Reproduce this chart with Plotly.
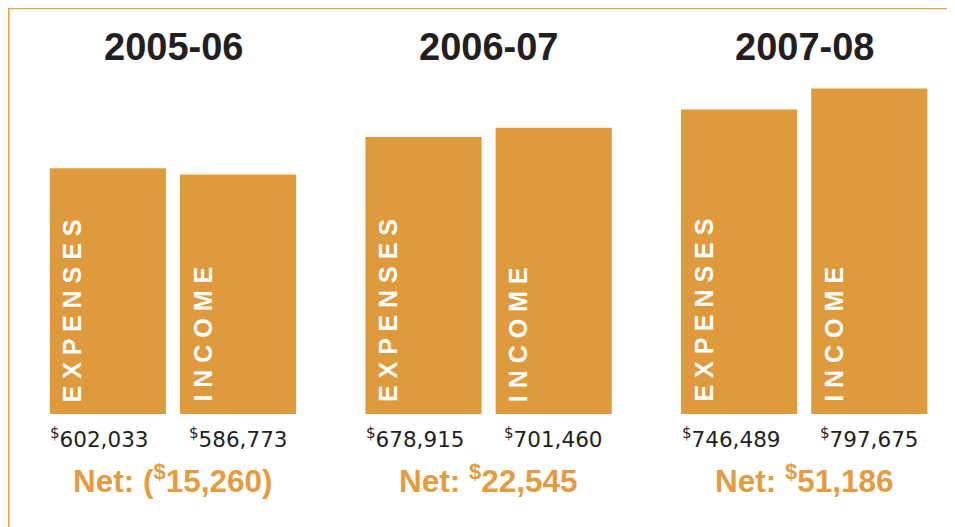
import plotly.graph_objects as go

years = ["2005-06", "2006-07", "2007-08"]
expenses = [602033, 678915, 746489]
income = [586773, 701460, 797675]
series_names = ["EXPENSES", "INCOME"]

ORANGE = "#E09A3E"
NET_ORANGE = "#E39C42"
DARK = "#231F20"
W, H = 947, 519

BARGAP = 0.175
BARGROUPGAP = 0.108
OFF = (1 - BARGAP) / 4

fig = go.Figure()
for name, vals in zip(series_names, [expenses, income]):
    fig.add_bar(x=years, y=vals, name=name,
                marker=dict(color=ORANGE, line=dict(width=0)),
                hoverinfo="skip")


def money(v):
    return "<sup>$</sup>" + f"{abs(v):,}"


annotations = []
for gi, yr in enumerate(years):
    # group title
    annotations.append(dict(x=gi, y=1 - 39 / H, xref="x", yref="paper",
                            text="<b>" + yr + "</b>", showarrow=False,
                            xanchor="center", yanchor="middle",
                            font=dict(family="Liberation Sans", size=38, color=DARK)))
    for si, (name, vals) in enumerate(zip(series_names, [expenses, income])):
        xc = gi + (-OFF if si == 0 else OFF)
        # vertical label inside bar
        annotations.append(dict(x=xc, y=0, xref="x", yref="y",
                                text="<b>" + " ".join(name) + "</b>", textangle=-90,
                                showarrow=False, xanchor="center", yanchor="bottom",
                                xshift=-36, yshift=10,
                                font=dict(family="Liberation Sans", size=25, color="white")))
        # value label below bar
        annotations.append(dict(x=xc, y=0, xref="x", yref="y",
                                text=money(vals[gi]), showarrow=False,
                                xanchor="center", yanchor="middle",
                                xshift=(-8 if si == 0 else 0), yshift=-24,
                                font=dict(family="DejaVu Sans", size=21.5, color=DARK)))
    net = income[gi] - expenses[gi]
    net_txt = money(net) if net >= 0 else "(" + money(net) + ")"
    annotations.append(dict(x=gi, y=0, xref="x", yref="y",
                            text="<b>Net: " + net_txt + "</b>", showarrow=False,
                            xanchor="center", yanchor="middle", yshift=-65,
                            font=dict(family="Liberation Sans", size=31.5, color=NET_ORANGE)))

shapes = [
    dict(type="line", xref="paper", yref="paper", x0=0.75 / W, x1=1, y0=1 - 0.5 / H, y1=1 - 0.5 / H,
         line=dict(color="#E8A24C", width=1.5)),
    dict(type="line", xref="paper", yref="paper", x0=0.75 / W, x1=0.75 / W, y0=0, y1=1,
         line=dict(color="#E8A24C", width=1.5)),
]

px_per_unit = 315.6
x0 = -165 / px_per_unit
x1 = x0 + W / px_per_unit
scale = 0.000408  # px per dollar
base_px = 406
y_top = base_px / scale
y_bot = -(H - base_px) / scale

fig.update_layout(
    width=W, height=H,
    margin=dict(l=0, r=0, t=0, b=0),
    paper_bgcolor="white", plot_bgcolor="white",
    barmode="group", bargap=BARGAP, bargroupgap=BARGROUPGAP,
    showlegend=False,
    xaxis=dict(visible=False, range=[x0, x1], type="category"),
    yaxis=dict(visible=False, range=[y_bot, y_top]),
    annotations=annotations,
    shapes=shapes,
)

fig.write_html("out.html")
